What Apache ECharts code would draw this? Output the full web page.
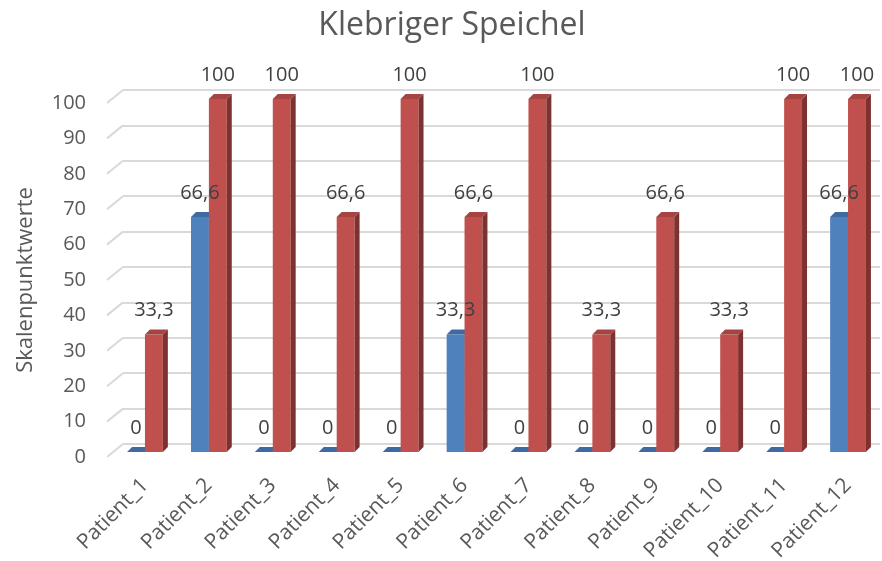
<!DOCTYPE html>
<html>
<head>
<meta charset="utf-8">
<script src="https://cdn.jsdelivr.net/npm/echarts@6/dist/echarts.min.js"></script>
<style>html,body{margin:0;padding:0;background:#fff}#c{width:882px;height:561px}</style>
</head>
<body>
<div id="c"></div>
<script>
const categories = ['Patient_1','Patient_2','Patient_3','Patient_4','Patient_5','Patient_6','Patient_7','Patient_8','Patient_9','Patient_10','Patient_11','Patient_12'];
const blueValues = [0, 66.6, 0, 0, 0, 33.3, 0, 0, 0, 0, 0, 66.6];
const redValues = [33.3, 100, 100, 66.6, 100, 66.6, 100, 33.3, 66.6, 33.3, 100, 100];
const yTicks = [0, 10, 20, 30, 40, 50, 60, 70, 80, 90, 100];

const FONT = 'Open Sans';
const fmt = v => String(v).replace('.', ',');

function makeBarRender(side, colors) {
  return function (params, api) {
    const idx = api.value(0), v = api.value(1);
    const base = api.coord([idx, 0]);
    const top = api.coord([idx, v]);
    const band = api.size([1, 0])[0];
    const w = band * 0.28;
    const d = 5;
    const x0 = side === 0 ? base[0] - w : base[0];
    const yT = top[1], yB = base[1];
    return {
      type: 'group',
      children: [
        { type: 'rect', shape: { x: x0, y: yT, width: w, height: yB - yT }, style: { fill: colors.front } },
        { type: 'polygon', shape: { points: [[x0 + w, yT], [x0 + w + d, yT - d], [x0 + w + d, yB - d], [x0 + w, yB]] }, style: { fill: colors.side } },
        { type: 'polygon', shape: { points: [[x0, yT], [x0 + d, yT - d], [x0 + w + d, yT - d], [x0 + w, yT]] }, style: { fill: colors.top } }
      ]
    };
  };
}

function makeLabelRender(side) {
  return function (params, api) {
    const idx = api.value(0), v = api.value(1);
    const base = api.coord([idx, 0]);
    const top = api.coord([idx, v]);
    const band = api.size([1, 0])[0];
    const w = band * 0.28;
    const x0 = side === 0 ? base[0] - w : base[0];
    return { type: 'text', style: { x: x0 + w / 2, y: top[1] - 24, text: fmt(v), align: 'center', verticalAlign: 'middle', fill: '#404040', fontSize: 20, fontFamily: FONT } };
  };
}

const chart = echarts.init(document.getElementById('c'), null, { renderer: 'canvas' });
chart.setOption({
  animation: false,
  backgroundColor: '#fff',
  title: {
    text: 'Klebriger Speichel', left: 447, top: 5, textAlign: 'center',
    textStyle: { fontFamily: FONT, fontSize: 32, fontWeight: 'normal', color: '#595959' }
  },
  grid: [
    { left: 107, right: 2, top: 103, bottom: 104, containLabel: false, outerBoundsMode: 'none' },
    { left: 113, right: 2, top: 99, bottom: 109, containLabel: false, outerBoundsMode: 'none' },
    { left: 123, right: 2, top: 90, bottom: 117, containLabel: false, outerBoundsMode: 'none' }
  ],
  xAxis: [
    { gridIndex: 0, type: 'value', min: 0, max: 1, show: false },
    { gridIndex: 1, type: 'category', data: categories,
      axisLine: { show: false }, axisTick: { show: false },
      axisLabel: { interval: 0, rotate: 45, margin: 30, fontSize: 21, fontFamily: FONT, color: '#595959' } },
    { gridIndex: 2, type: 'value', min: 0, max: 1, show: false }
  ],
  yAxis: [
    { gridIndex: 0, type: 'value', min: 0, max: 100, interval: 10,
      name: 'Skalenpunktwerte', nameLocation: 'middle', nameRotate: 90, nameGap: 70,
      nameTextStyle: { fontSize: 22, fontFamily: FONT, color: '#595959' },
      axisLine: { show: false }, axisTick: { show: false }, splitLine: { show: false },
      axisLabel: { margin: 21, fontSize: 20, fontFamily: FONT, color: '#595959' } },
    { gridIndex: 1, type: 'value', min: 0, max: 100, interval: 10, show: false, splitLine: { show: false } },
    { gridIndex: 2, type: 'value', min: 0, max: 100, interval: 10,
      axisLine: { show: false }, axisTick: { show: false }, axisLabel: { show: false },
      splitLine: { show: true, lineStyle: { color: '#d9d9d9', width: 2 } } }
  ],
  series: [
    { type: 'custom', xAxisIndex: 0, yAxisIndex: 0, data: yTicks.map(t => [0, t]),
      renderItem: function (params, api) {
        const p = api.coord([0, api.value(1)]);
        return { type: 'line', shape: { x1: p[0], y1: p[1], x2: p[0] + 16, y2: p[1] - 13 }, style: { stroke: '#d9d9d9', lineWidth: 2 } };
      } },
    { type: 'custom', name: 'Serie 1', xAxisIndex: 1, yAxisIndex: 1, data: blueValues.map((v, i) => [i, v]),
      renderItem: makeBarRender(0, { front: '#4F81BD', side: '#2E5586', top: '#3E6A9F' }) },
    { type: 'custom', name: 'Serie 2', xAxisIndex: 1, yAxisIndex: 1, data: redValues.map((v, i) => [i, v]),
      renderItem: makeBarRender(1, { front: '#C0504D', side: '#7E3230', top: '#A64442' }) },
    { type: 'custom', name: 'Serie 1 Beschriftung', xAxisIndex: 1, yAxisIndex: 1, z: 5, data: blueValues.map((v, i) => [i, v]),
      renderItem: makeLabelRender(0) },
    { type: 'custom', name: 'Serie 2 Beschriftung', xAxisIndex: 1, yAxisIndex: 1, z: 5, data: redValues.map((v, i) => [i, v]),
      renderItem: makeLabelRender(1) }
  ]
});
</script>
</body>
</html>
